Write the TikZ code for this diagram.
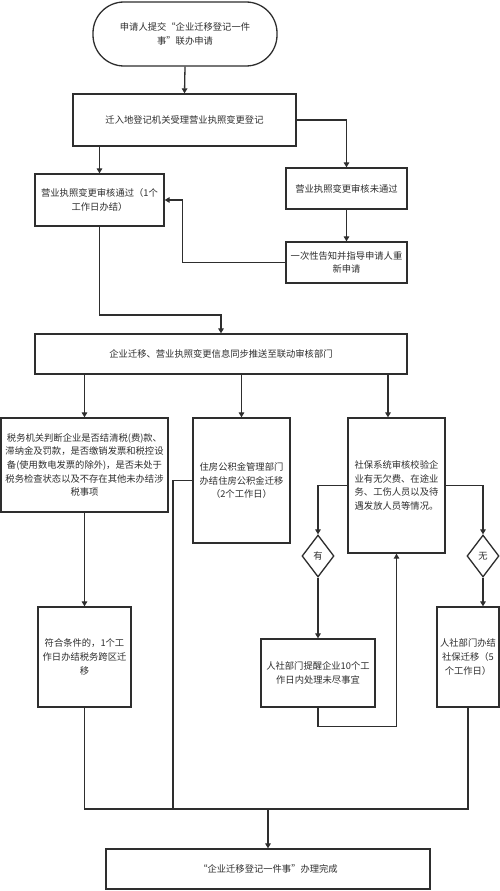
\documentclass[tikz,border=0pt]{standalone}
\usepackage{fontspec}
\setmainfont{Noto Sans CJK SC}
\usetikzlibrary{shapes.geometric,arrows.meta,calc}
\definecolor{ink}{HTML}{2E2E2E}
\tikzset{
  base/.style={draw=ink, line width=1.3pt, text=ink, inner sep=0pt, align=center,
    font=\fontsize{9.3pt}{13.6pt}\selectfont},
  stepbox/.style={base, rectangle},
  term/.style={base, rectangle, rounded corners=31pt},
  dec/.style={base, diamond, aspect=0.76, minimum width=32pt, minimum height=42pt},
  arr/.style={draw=ink, line width=1.3pt, -{Triangle[length=5pt,width=5.5pt]}},
  ln/.style={draw=ink, line width=1.3pt},
}
\begin{document}
\begin{tikzpicture}[x=1pt,y=-1pt]
\useasboundingbox[fill=white] (0,0) rectangle (500,891);

\node[term, minimum width=184pt, minimum height=64pt] (start) at (185,34)
  {申请人提交“企业迁移登记一件\\事”联办申请};
\node[stepbox, minimum width=223pt, minimum height=52pt] (reg) at (184.5,120)
  {迁入地登记机关受理营业执照变更登记};
\node[stepbox, minimum width=129pt, minimum height=52pt] (pass) at (99.5,200)
  {营业执照变更审核通过（1个\\工作日办结）};
\node[stepbox, minimum width=121pt, minimum height=41pt] (fail) at (346.5,188.5)
  {营业执照变更审核未通过};
\node[stepbox, minimum width=121pt, minimum height=41pt] (notify) at (346.5,262.5)
  {一次性告知并指导申请人重\\新申请};
\node[stepbox, minimum width=372pt, minimum height=40pt] (push) at (221,354)
  {企业迁移、营业执照变更信息同步推送至联动审核部门};
\node[stepbox, minimum width=167pt, minimum height=94pt] (tax) at (84.5,465)
  {税务机关判断企业是否结清税(费)款、\\滞纳金及罚款，是否缴销发票和税控设\\备(使用数电发票的除外)，是否未处于\\税务检查状态以及不存在其他未办结涉\\税事项};
\node[stepbox, minimum width=97pt, minimum height=125pt] (house) at (241.5,480.5)
  {住房公积金管理部门\\办结住房公积金迁移\\（2个工作日）};
\node[stepbox, minimum width=97pt, minimum height=135pt] (social) at (396.5,485.5)
  {社保系统审核校验企\\业有无欠费、在途业\\务、工伤人员以及待\\遇发放人员等情况。};
\node[dec] (dyes) at (318,556) {有};
\node[dec] (dno) at (483,556) {无};
\node[stepbox, minimum width=114pt, minimum height=68pt] (remind) at (318,673)
  {人社部门提醒企业10个工\\作日内处理未尽事宜};
\node[stepbox, minimum width=93pt, minimum height=100pt] (taxok) at (84.5,657)
  {符合条件的，1个工\\作日办结税务跨区迁\\移};
\node[stepbox, minimum width=62pt, minimum height=100pt] (hr) at (468,657)
  {人社部门办结\\社保迁移（5\\个工作日）};
\node[stepbox, minimum width=324pt, minimum height=40pt] (done) at (268,869)
  {“企业迁移登记一件事”办理完成};

\coordinate (j1) at (221,315);
\coordinate (xs) at (388,0);
\coordinate (xh) at (173,0);
\coordinate (jb) at (268,809);

\draw[arr] (start.south) -- (reg.north);
\draw[arr] (reg.east) -| (fail.north);
\draw[arr] (reg.south -| pass.north) -- (pass.north);
\draw[arr] (fail.south) -- (notify.north);
\draw[arr] (notify.west) -- ++(-103,0) |- (pass.east);
\draw[arr] (pass.south) |- (j1) -- (push.north);
\draw[arr] (push.south -| tax.north) -- (tax.north);
\draw[arr] (push.south -| house.north) -- (house.north);
\draw[arr] (push.south -| xs) -- (xs |- social.north);
\draw[ln] (house.west) -| (xh |- jb);
\draw[arr] (social.west) -| (dyes.north);
\draw[arr] (social.east) -| (dno.north);
\draw[arr] (dyes.south) -- (remind.north);
\draw[arr] (dno.south) -- (dno.south |- hr.north);
\draw[arr] (remind.south) -- ++(0,19) -| (social.south);
\draw[arr] (tax.south) -- (taxok.north);
\draw[ln] (taxok.south) |- (jb) -| (hr.south);
\draw[arr] (jb) -- (done.north);
\end{tikzpicture}
\end{document}
